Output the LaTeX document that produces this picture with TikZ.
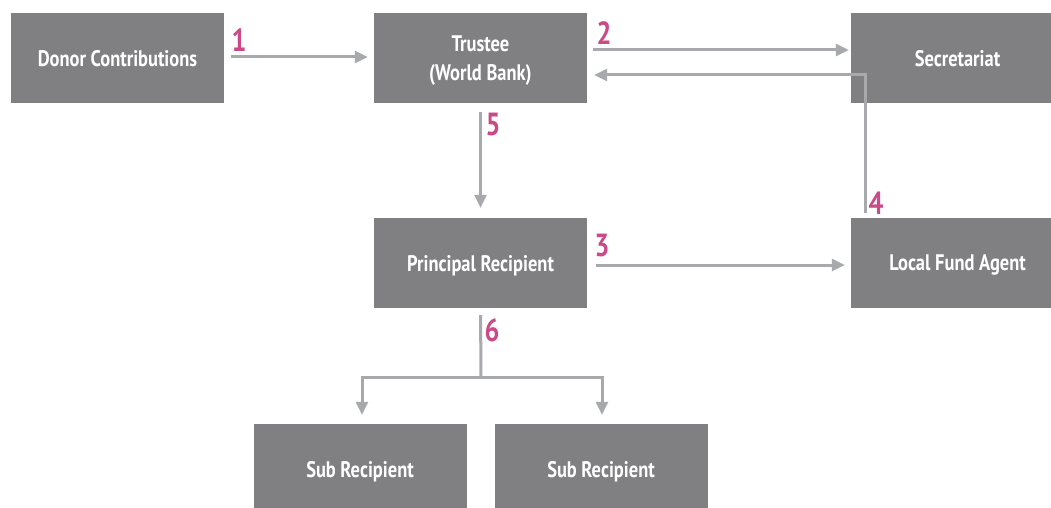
\documentclass[tikz,border=0pt]{standalone}
\usepackage{fontspec}
\setmainfont[FakeStretch=0.82]{PT Sans}
\usetikzlibrary{arrows.meta}
\definecolor{boxgray}{HTML}{808083}
\definecolor{arrgray}{HTML}{A7A9AC}
\definecolor{nummag}{HTML}{C94A87}
\tikzset{
  box/.style={fill=boxgray, draw=none, minimum width=213pt, minimum height=90pt, inner sep=0pt,
    text=white, font=\fontsize{22.5}{29}\selectfont\bfseries, align=center, text depth=0pt},
  ln/.style={draw=arrgray, line width=3pt},
  arr/.style={ln, -{Triangle[length=13pt,width=12pt]}},
  num/.style={text=nummag, font=\fontsize{32}{34}\selectfont\bfseries, inner sep=0pt}
}
\begin{document}
\begin{tikzpicture}[x=1pt,y=1pt]
\useasboundingbox (0,0) rectangle (1051,-508);
\node[box] (donor) at (117.5,-58) {Donor Contributions};
\node[box] (trustee) at (480.5,-58) {Trustee\\(World Bank)};
\node[box] (sec) at (957.5,-58) {Secretariat};
\node[box] (pr) at (480.5,-263) {Principal Recipient};
\node[box] (lfa) at (957.5,-263) {Local Fund Agent};
\node[box] (sub1) at (360,-469) {Sub Recipient};
\node[box] (sub2) at (601,-469) {Sub Recipient};
\coordinate (split) at (481,-377);
% arrows
\draw[arr, shorten <=7pt, shorten >=6pt] ([yshift=1pt]donor.east) -- ([yshift=1pt]trustee.west);
\draw[arr, shorten <=6pt, shorten >=2pt] ([yshift=8pt]trustee.east) -- ([yshift=8pt]sec.west);
\draw[arr, shorten <=5pt] ([xshift=15pt]lfa.north west) |- ([xshift=7pt,yshift=-17pt]trustee.east);
\draw[arr, shorten <=9pt, shorten >=10pt] (trustee.south) -- (pr.north);
\draw[arr, shorten <=9pt, shorten >=6pt] ([yshift=-2pt]pr.east) -- ([yshift=-2pt]lfa.west);
\draw[ln, shorten <=7pt] (pr.south) -- (split);
\draw[arr, shorten >=9pt] (split) -| ([xshift=2pt]sub1.north);
\draw[arr, shorten >=9pt] (split) -| ([xshift=1pt]sub2.north);
\draw[ln] ([xshift=-1.5pt]split) -- ([xshift=1.5pt]split);
% numbers
\node[num] (n1) at (239,-40) {1};
\node[num] (n2) at (604,-33) {2};
\node[num] (n3) at (602,-246) {3};
\node[num] (n4) at (876,-203) {4};
\node[num] (n5) at (493,-125) {5};
\node[num] (n6) at (492,-330) {6};
\end{tikzpicture}
\end{document}
